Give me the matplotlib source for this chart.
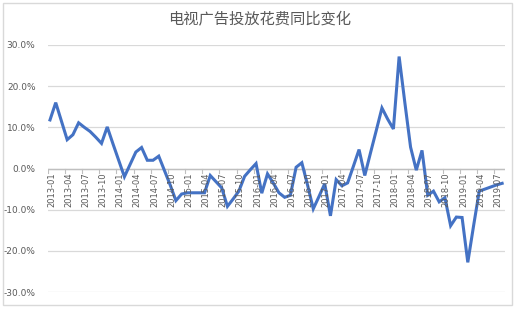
import matplotlib.pyplot as plt
from matplotlib.patches import Rectangle

plt.rcParams['font.family'] = ['Noto Sans CJK SC', 'DejaVu Sans']

# monthly categories 2013-01 .. 2019-08
months = ['%d-%02d' % (2013 + m // 12, m % 12 + 1) for m in range(80)]

# year-on-year change of TV ad spend, in %
yoy = [11.8, 16.0, 11.5, 7.0, 8.2, 11.1, 10.0, 9.0, 7.6, 6.1,
       10.1, 6.0, 2.0, -2.0, 1.0, 4.0, 5.1, 2.0, 2.0, 3.0,
       -0.5, -4.0, -7.8, -6.2, -5.9, -5.9, -5.9, -5.9, -1.7, -3.2,
       -4.7, -9.2, -7.4, -5.5, -1.9, -0.3, 1.2, -6.0, -1.3, -3.5,
       -5.9, -7.0, -6.5, 0.3, 1.4, -4.0, -9.8, -6.8, -3.7, -11.5,
       -2.7, -4.2, -3.5, 0.5, 4.6, -1.7, 3.8, 9.2, 14.7, 12.0,
       9.6, 27.2, 16.0, 5.2, -0.4, 4.4, -6.5, -5.5, -8.1, -7.1,
       -13.9, -11.8, -11.9, -22.8, -14.0, -5.5, -5.0, -4.5, -4.0, -3.6]

yticks = [-30, -20, -10, 0, 10, 20, 30]
title = '电视广告投放花费同比变化'

grey = '#595959'
grid = '#D9D9D9'

fig = plt.figure(figsize=(5.2, 3.09), dpi=100)
fig.patches.append(Rectangle((3 / 520, 4 / 309), 509 / 520, 302 / 309,
                             transform=fig.transFigure, fill=False,
                             edgecolor=grid, linewidth=1))

ax = fig.add_axes([48 / 520, 17 / 309, 457 / 520, 247 / 309])
x = list(range(len(months)))
ax.plot(x, yoy, color='#4472C4', linewidth=2.2, solid_joinstyle='miter', zorder=3)

ax.set_ylim(-30, 30)
ax.set_xlim(-0.35, 79.5)
ax.set_yticks(yticks)
ax.set_yticklabels(['%.1f%%' % v for v in yticks], color=grey, fontsize=6.5,
                   family=['DejaVu Sans'])
ax.grid(axis='y', color=grid, linewidth=0.9)
ax.axhline(0, color='#BFBFBF', linewidth=1, zorder=2)
for s in ax.spines.values():
    s.set_visible(False)
ax.tick_params(axis='y', length=0, pad=9)

# category labels sit just under the 0 line, rotated
ax.set_xticks(x[::3])
ax.set_xticklabels([])
ax.tick_params(axis='x', length=0)
for i in x[::3]:
    ax.text(i + 0.25, -0.9, months[i], rotation=90, ha='center', va='top',
            fontsize=6, color=grey, family=['DejaVu Sans'])
    ax.plot([i - 0.4, i - 0.4], [0, -1.2], color='#BFBFBF', linewidth=0.8, zorder=2)

fig.text(0.5, 1 - 20 / 309, title, ha='center', va='center', fontsize=11, color=grey)

fig.savefig('out.png', dpi=100)
